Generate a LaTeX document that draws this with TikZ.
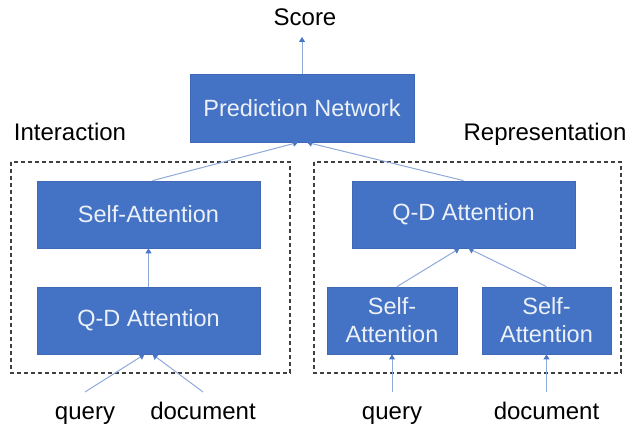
\documentclass[tikz,border=0pt]{standalone}
\usepackage{fontspec}
\setmainfont{Liberation Sans}
\usetikzlibrary{arrows.meta}
\definecolor{boxblue}{HTML}{4472C4}
\definecolor{boxedge}{HTML}{3F69B6}
\definecolor{linkblue}{HTML}{8EAADB}
\definecolor{tipblue}{HTML}{4A76C6}
\definecolor{framegray}{HTML}{404040}
\begin{document}
\begin{tikzpicture}[x=1pt,y=-1pt,
  block/.style={rectangle, fill=boxblue, draw=boxedge, line width=0.8pt,
    text=white!90!boxblue, inner sep=0pt, align=center,
    font=\fontsize{23.5}{28}\selectfont},
  label/.style={font=\fontsize{24}{28}\selectfont, inner sep=0pt, anchor=base},
  link/.style={draw=linkblue, line width=1pt,
    -{Triangle[width=6pt,length=5pt,color=tipblue]}},
  groupframe/.style={draw=framegray, line width=1.1pt, dash pattern=on 4pt off 3pt}]
\useasboundingbox (0,0) rectangle (629,430);

% group frames
\draw[groupframe] (11,162) rectangle (290,373);
\draw[groupframe] (314,162) rectangle (621,373);

% boxes
\node[block, minimum width=224pt, minimum height=68pt] (pn) at (302,108) {Prediction Network};
\node[block, minimum width=223pt, minimum height=67pt] (lsa) at (148.5,214.5) {Self-Attention};
\node[block, minimum width=223pt, minimum height=67pt] (lqd) at (148.5,320.5) {Q-D Attention};
\node[block, minimum width=223pt, minimum height=67pt] (rqd) at (463.5,214.5) {Q-D Attention};
\node[block, minimum width=130pt, minimum height=67pt] (rsa1) at (392,320.5) {Self-\\Attention};
\node[block, minimum width=129pt, minimum height=67pt] (rsa2) at (546.5,320.5) {Self-\\Attention};

% labels (placed by baseline)
\node[label] (score) at (305,26) {Score};
\node[label] (inter) at (70,141) {Interaction};
\node[label] (repr) at (545,141) {Representation};
\node[label] (lq) at (85,419) {query};
\node[label] (ld) at (203,419) {document};
\node[label] (rq) at (392,419) {query};
\node[label] (rd) at (546.5,419) {document};

% free ends of the input connectors
\coordinate (lqs) at (85,392);
\coordinate (lds) at (203,392);
\coordinate (rqs) at (392,392);
\coordinate (rds) at (546.5,392);
\coordinate (scoretip) at (302,37);

% connectors
\draw[link] (pn.north) -- (scoretip);
\draw[link] (lsa.north) ++(4,0) -- ([xshift=-4pt]pn.south);
\draw[link] (rqd.north) -- ([xshift=5pt]pn.south);
\draw[link] (lqd.north) -- (lsa.south);
\draw[link] (lqs) -- ([xshift=-4pt]lqd.south);
\draw[link] (lds) -- ([xshift=4pt]lqd.south);
\draw[link] (rsa1.north) ++(5,0) -- ([xshift=-4pt]rqd.south);
\draw[link] (rsa2.north) -- ([xshift=5pt]rqd.south);
\draw[link] (rqs) -- (rsa1.south);
\draw[link] (rds) -- (rsa2.south);
\end{tikzpicture}
\end{document}
